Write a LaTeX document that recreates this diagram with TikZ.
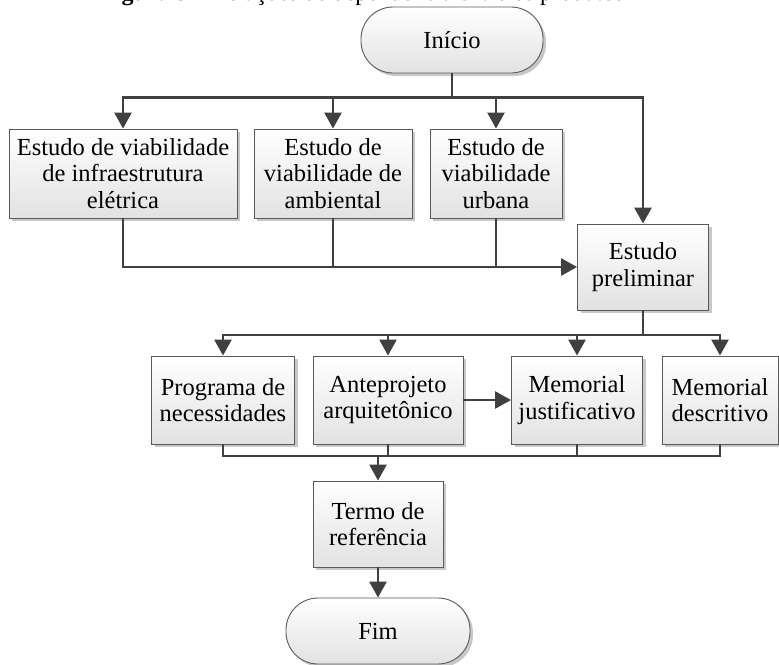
\documentclass[tikz,border=0pt]{standalone}
\usepackage{fontspec}
\setmainfont{Liberation Serif}
\usetikzlibrary{arrows.meta,shadows}
\definecolor{boxline}{HTML}{5A5A5A}
\definecolor{boxfill}{HTML}{E2E2E2}
\definecolor{flowcol}{HTML}{404040}
\definecolor{shadecol}{HTML}{C8C8C8}
\newcommand\boxfont{\fontsize{24.5}{26.5}\selectfont}

\begin{document}
\begin{tikzpicture}[x=1pt,y=-1pt,
  box/.style={draw=boxline, line width=0.9pt, top color=white, bottom color=boxfill,
    align=center, inner sep=0pt, font=\boxfont,
    drop shadow={shadow xshift=3pt, shadow yshift=-3pt, fill=shadecol, opacity=1}},
  terminal/.style={box, rounded corners=32pt, minimum width=182pt, minimum height=66pt},
  line/.style={draw=flowcol, line width=2.7pt},
  flow/.style={line, -{Triangle[length=16pt,width=17pt]}}]

\useasboundingbox (0,0) rectangle (779,664);
\clip (0,0) rectangle (779,664);

% caption line, mostly above the page
\node[anchor=base west, inner sep=0pt, font=\fontsize{24}{26}\selectfont] (caption) at (100,0.5)
  {\textbf{Figura 5} – Relações de dependência entre os produtos};

% start and end
\node[terminal] (inicio) at (452,40) {Início};
\node[terminal, minimum width=184pt] (fim) at (378,631) {Fim};

% feasibility studies
\node[box, minimum width=228pt, minimum height=89pt] (b1) at (123,173.5)
  {Estudo de viabilidade\\de infraestrutura\\elétrica};
\node[box, minimum width=158pt, minimum height=89pt] (b2) at (333,173.5)
  {Estudo de\\viabilidade de\\ambiental};
\node[box, minimum width=132pt, minimum height=89pt] (b3) at (496,173.5)
  {Estudo de\\viabilidade\\urbana};
\node[box, minimum width=131pt, minimum height=86pt] (pre) at (643,267)
  {Estudo\\preliminar};

% products
\node[box, minimum width=143pt, minimum height=88pt] (p1) at (223,400)
  {Programa de\\necessidades};
\node[box, minimum width=150pt, minimum height=88pt] (p2) at (388,400)
  {Anteprojeto\\arquitetônico};
\node[box, minimum width=131pt, minimum height=88pt] (p3) at (577,400)
  {Memorial\\justificativo};
\node[box, minimum width=116pt, minimum height=88pt] (p4) at (720,400)
  {Memorial\\descritivo};
\node[box, minimum width=130pt, minimum height=86pt] (termo) at (378,524)
  {Termo de\\referência};

% bus levels
\coordinate (bus1) at (0,97.5);
\coordinate (bus2) at (0,335);
\coordinate (bus3) at (0,456);

% from start to the studies
\draw[line] (inicio.south) -- (inicio.south |- bus1);
\draw[flow] (inicio.south |- bus1) -| (b1.north);
\draw[flow] (inicio.south |- bus1) -| (pre.north);
\draw[flow] (b2.north |- bus1) -- (b2.north);
\draw[flow] (b3.north |- bus1) -- (b3.north);

% studies into the preliminary study
\draw[flow] (b1.south) |- (pre.west);
\draw[line] (b2.south) -- (b2.south |- pre.west);
\draw[line] (b3.south) -- (b3.south |- pre.west);

% preliminary study to the products
\draw[line] (pre.south) -- (pre.south |- bus2);
\draw[flow] (pre.south |- bus2) -| (p1.north);
\draw[flow] (pre.south |- bus2) -| (p4.north);
\draw[flow] (p2.north |- bus2) -- (p2.north);
\draw[flow] (p3.north |- bus2) -- (p3.north);
\draw[flow] (p2.east) -- (p3.west);

% products to the terms of reference
\draw[line] (p1.south) |- (p4.south |- bus3) -- (p4.south);
\draw[line] (p2.south) -- (p2.south |- bus3);
\draw[line] (p3.south) -- (p3.south |- bus3);
\draw[flow] (termo.north |- bus3) -- (termo.north);
\draw[flow] (termo.south) -- (fim.north);
\end{tikzpicture}
\end{document}
